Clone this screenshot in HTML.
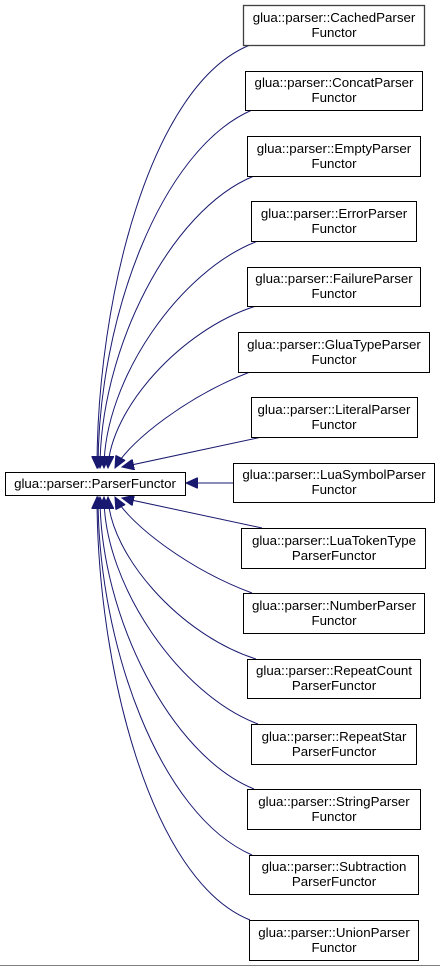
<!DOCTYPE html>
<html><head><meta charset="utf-8"><style>
html,body{margin:0;padding:0;background:#fff;}
svg{display:block;}
text{font-family:"Liberation Sans",Arial,sans-serif;font-size:13.3px;fill:#000;}
</style></head><body>
<svg width="440" height="967" viewBox="0 0 440 967" xmlns="http://www.w3.org/2000/svg">
<defs>
<marker id="a" markerWidth="13" markerHeight="11" refX="12" refY="5.5" orient="auto" markerUnits="userSpaceOnUse">
<path d="M0,0 L12,5.5 L0,11 Z" fill="#191970" stroke="#191970"/>
</marker>
</defs>
<g fill="none" stroke="#191970" stroke-width="1" marker-end="url(#a)">
<path d="M250,45 C150,85 97,300 97,468"/>
<path d="M252,110 C160,150 98,320 98,468"/>
<path d="M254,176 C170,210 100,350 100,468"/>
<path d="M258,241 C180,270 104,380 104,468"/>
<path d="M256,306 C180,330 110,410 108,468"/>
<path d="M250,372 C190,395 130,440 115,468"/>
<path d="M262,437 L122,467"/>
<path d="M233,483 L186,483"/>
<path d="M262,528 L122,498"/>
<path d="M252,593 C190,570 130,525 115,497"/>
<path d="M256,659 C180,635 110,555 108,497"/>
<path d="M258,724 C180,695 104,585 104,497"/>
<path d="M254,789 C170,755 100,615 100,497"/>
<path d="M252,855 C160,815 98,645 98,497"/>
<path d="M250,920 C150,880 97,665 97,497"/>
</g>
<g fill="#fff" stroke="#000" stroke-width="1">
<rect x="5.5" y="472.5" width="180" height="23" stroke="#000"/>
<rect x="243.5" y="5.5" width="181" height="40" stroke="#404040" stroke-width="1.3"/>
<rect x="245.5" y="71.5" width="177" height="39"/>
<rect x="247.5" y="136.5" width="173" height="40"/>
<rect x="251.5" y="201.5" width="165" height="40"/>
<rect x="247.5" y="267.5" width="173" height="39"/>
<rect x="238.5" y="332.5" width="191" height="40"/>
<rect x="251.5" y="397.5" width="166" height="40"/>
<rect x="233.5" y="463.5" width="201" height="39"/>
<rect x="241.5" y="528.5" width="184" height="40"/>
<rect x="243.5" y="593.5" width="181" height="40"/>
<rect x="247.5" y="659.5" width="173" height="39"/>
<rect x="251.5" y="724.5" width="165" height="40"/>
<rect x="247.5" y="789.5" width="173" height="40"/>
<rect x="249.5" y="855.5" width="169" height="39"/>
<rect x="249.5" y="920.5" width="169" height="40"/>
</g>
<g text-anchor="middle">
<text x="95" y="488">glua::parser::ParserFunctor</text>
<text x="334" y="22">glua::parser::CachedParser</text><text x="334" y="37">Functor</text>
<text x="334" y="87">glua::parser::ConcatParser</text><text x="334" y="102">Functor</text>
<text x="334" y="153">glua::parser::EmptyParser</text><text x="334" y="168">Functor</text>
<text x="334" y="218">glua::parser::ErrorParser</text><text x="334" y="233">Functor</text>
<text x="334" y="283">glua::parser::FailureParser</text><text x="334" y="298">Functor</text>
<text x="334" y="349">glua::parser::GluaTypeParser</text><text x="334" y="364">Functor</text>
<text x="334" y="414">glua::parser::LiteralParser</text><text x="334" y="429">Functor</text>
<text x="334" y="479">glua::parser::LuaSymbolParser</text><text x="334" y="494">Functor</text>
<text x="334" y="545">glua::parser::LuaTokenType</text><text x="334" y="560">ParserFunctor</text>
<text x="334" y="610">glua::parser::NumberParser</text><text x="334" y="625">Functor</text>
<text x="334" y="675">glua::parser::RepeatCount</text><text x="334" y="690">ParserFunctor</text>
<text x="334" y="741">glua::parser::RepeatStar</text><text x="334" y="756">ParserFunctor</text>
<text x="334" y="806">glua::parser::StringParser</text><text x="334" y="821">Functor</text>
<text x="334" y="871">glua::parser::Subtraction</text><text x="334" y="886">ParserFunctor</text>
<text x="334" y="937">glua::parser::UnionParser</text><text x="334" y="952">Functor</text>
</g>
<line x1="0" y1="965.5" x2="440" y2="965.5" stroke="#808080"/>
</svg>
</body></html>
